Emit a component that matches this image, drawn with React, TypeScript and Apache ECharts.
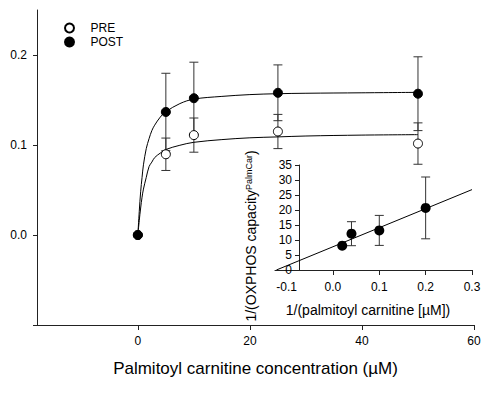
import React, { useEffect, useRef } from "react";
import * as echarts from "echarts";

// ---- Main plot data ----
const concentrations = [0, 5, 10, 25, 50];
const preValues = [0, 0.0897, 0.111, 0.115, 0.1016];
const preErrors = [0, 0.018, 0.019, 0.019, 0.023];
const postValues = [0, 0.1367, 0.152, 0.158, 0.157];
const postErrors = [0, 0.043, 0.04, 0.031, 0.041];

// fitted curves
const preCurveX = [0, 0.25, 0.5, 0.75, 1, 1.5, 2, 2.5, 3, 4, 5, 7.5, 10, 15, 20, 25, 30, 40, 50];
const preCurveY = [0, 0.016, 0.03, 0.042, 0.051, 0.064, 0.076, 0.081, 0.086, 0.091, 0.095, 0.0997, 0.103, 0.106, 0.108, 0.109, 0.11, 0.111, 0.1115];
const postCurveX = [0, 0.25, 0.5, 0.75, 1, 1.5, 2, 2.5, 3, 4, 5, 7.5, 10, 15, 20, 25, 30, 40, 50];
const postCurveY = [0, 0.026, 0.048, 0.064, 0.078, 0.096, 0.107, 0.116, 0.122, 0.131, 0.137, 0.146, 0.151, 0.154, 0.156, 0.157, 0.1575, 0.158, 0.1585];

const mainXTicks = [0, 20, 40, 60];
const mainYTicks = [-0.1, 0, 0.1, 0.2];
const mainYLabels = [0, 0.1, 0.2];

// ---- Inset (double reciprocal) data ----
const insetX = [0.02, 0.04, 0.1, 0.2];
const insetY = [8.1, 12.1, 13.2, 20.7];
const insetErr = [0, 4, 5, 10.3];
const regLineX = [-0.122, 0.3];
const regLineY = [0, 26.8];
const insetXTicks = [0, 0.1, 0.2, 0.3];
const insetXLabels = [-0.1, 0, 0.1, 0.2, 0.3];

const FONT = '"Liberation Sans", Arial, Helvetica, sans-serif';
const INK = "#000";
const AXIS = "#222";

function zip(xs: number[], ys: number[]) {
  return xs.map((x, i) => [x, ys[i]]);
}

function errData(xs: number[], ys: number[], es: number[]) {
  return xs
    .map((x, i) => [x, ys[i] - es[i], ys[i] + es[i]])
    .filter((d, i) => es[i] > 0);
}

function errorBarRender(cap: number) {
  return (params: any, api: any) => {
    const x = api.value(0);
    const lo = api.coord([x, api.value(1)]);
    const hi = api.coord([x, api.value(2)]);
    const style = { stroke: "#333", lineWidth: 1 };
    return {
      type: "group",
      children: [
        { type: "line", shape: { x1: hi[0], y1: hi[1], x2: lo[0], y2: lo[1] }, style },
        { type: "line", shape: { x1: hi[0] - cap, y1: hi[1], x2: hi[0] + cap, y2: hi[1] }, style },
        { type: "line", shape: { x1: lo[0] - cap, y1: lo[1], x2: lo[0] + cap, y2: lo[1] }, style },
      ],
    };
  };
}

export default function App() {
  const ref = useRef<HTMLDivElement>(null);

  useEffect(() => {
    if (!ref.current) return;
    const chart = echarts.init(ref.current, undefined, { renderer: "svg" });
    const axisLine = { show: true, onZero: false, lineStyle: { color: AXIS, width: 1 } };
    const tickStyle = { color: AXIS, width: 1 };
    const labelStyle = { color: INK, fontSize: 12, fontFamily: FONT };

    chart.setOption({
      animation: false,
      backgroundColor: "#fff",
      textStyle: { fontFamily: FONT },
      legend: {
        data: ["PRE", "POST"],
        orient: "vertical",
        left: 59,
        top: 17,
        itemWidth: 32,
        itemHeight: 9,
        itemGap: 2,
        textStyle: { fontSize: 12, color: INK, fontFamily: FONT },
      },
      grid: [
        { left: 37, top: 10, width: 437, height: 315, containLabel: false },
        { left: 275, top: 165, width: 197, height: 105, containLabel: false },
      ],
      xAxis: [
        {
          type: "value",
          gridIndex: 0,
          min: -18,
          max: 60,
          axisLine,
          axisTick: { show: true, customValues: mainXTicks, length: 5, lineStyle: tickStyle },
          axisLabel: { customValues: mainXTicks, margin: 10, ...labelStyle },
          splitLine: { show: false },
          name: "Palmitoyl carnitine concentration (µM)",
          nameLocation: "middle",
          nameGap: 35,
          nameTextStyle: { fontSize: 17, color: INK, fontFamily: FONT },
        },
        {
          type: "value",
          gridIndex: 1,
          min: -0.125,
          max: 0.3,
          axisLine,
          axisTick: { show: true, customValues: insetXTicks, length: 5, lineStyle: tickStyle },
          axisLabel: {
            customValues: insetXLabels,
            margin: 11,
            formatter: (v: number) => v.toFixed(1),
            ...labelStyle,
          },
          splitLine: { show: false },
        },
      ],
      yAxis: [
        {
          type: "value",
          gridIndex: 0,
          min: -0.1,
          max: 0.25,
          axisLine,
          axisTick: { show: true, customValues: mainYTicks, length: 4, lineStyle: tickStyle },
          axisLabel: {
            customValues: mainYLabels,
            margin: 10,
            formatter: (v: number) => v.toFixed(1),
            ...labelStyle,
          },
          splitLine: { show: false },
        },
        {
          type: "value",
          gridIndex: 1,
          min: 0,
          max: 35,
          interval: 5,
          offset: -24,
          axisLine,
          axisTick: { show: true, length: 4, lineStyle: tickStyle },
          axisLabel: { margin: 7, ...labelStyle },
          splitLine: { show: false },
        },
      ],
      graphic: [
        {
          type: "text",
          x: 251,
          y: 236,
          rotation: Math.PI / 2,
          style: {
            text: "{a|1/(OXPHOS capacity}{b|PalmCar}{a|)}",
            align: "center",
            verticalAlign: "middle",
            fill: INK,
            rich: {
              a: { fontSize: 14, fontFamily: FONT, fill: INK },
              b: { fontSize: 9, fontFamily: FONT, fill: INK, verticalAlign: "top" },
            },
          },
        },
        {
          type: "text",
          x: 368,
          y: 310,
          style: {
            text: "1/(palmitoyl carnitine [µM])",
            align: "center",
            verticalAlign: "middle",
            fontSize: 14,
            fontFamily: FONT,
            fill: INK,
          },
        },
      ],
      series: [
        {
          name: "PRE fit",
          type: "line",
          xAxisIndex: 0,
          yAxisIndex: 0,
          data: zip(preCurveX, preCurveY),
          showSymbol: false,
          smooth: 0.35,
          lineStyle: { color: INK, width: 1 },
          silent: true,
        },
        {
          name: "POST fit",
          type: "line",
          xAxisIndex: 0,
          yAxisIndex: 0,
          data: zip(postCurveX, postCurveY),
          showSymbol: false,
          smooth: 0.35,
          lineStyle: { color: INK, width: 1 },
          silent: true,
        },
        {
          name: "errors",
          type: "custom",
          xAxisIndex: 0,
          yAxisIndex: 0,
          data: [
            ...errData(concentrations, preValues, preErrors),
            ...errData(concentrations, postValues, postErrors),
          ],
          renderItem: errorBarRender(4.5),
          silent: true,
          z: 3,
        },
        {
          name: "PRE",
          type: "scatter",
          xAxisIndex: 0,
          yAxisIndex: 0,
          data: zip(concentrations, preValues),
          symbol: "circle",
          symbolSize: 9,
          itemStyle: { color: "#fff", borderColor: INK, borderWidth: 1, opacity: 1 },
          z: 4,
        },
        {
          name: "POST",
          type: "scatter",
          xAxisIndex: 0,
          yAxisIndex: 0,
          data: zip(concentrations, postValues),
          symbol: "circle",
          symbolSize: 9,
          itemStyle: { color: INK, borderColor: INK, borderWidth: 1, opacity: 1 },
          z: 5,
        },
        {
          name: "regression",
          type: "line",
          xAxisIndex: 1,
          yAxisIndex: 1,
          data: zip(regLineX, regLineY),
          showSymbol: false,
          lineStyle: { color: INK, width: 1 },
          silent: true,
        },
        {
          name: "inset errors",
          type: "custom",
          xAxisIndex: 1,
          yAxisIndex: 1,
          data: errData(insetX, insetY, insetErr),
          renderItem: errorBarRender(4.5),
          silent: true,
          z: 3,
        },
        {
          name: "inset",
          type: "scatter",
          xAxisIndex: 1,
          yAxisIndex: 1,
          data: zip(insetX, insetY),
          symbol: "circle",
          symbolSize: 10,
          itemStyle: { color: INK, opacity: 1 },
          z: 5,
        },
      ],
    });

    return () => chart.dispose();
  }, []);

  return (
    <div
      ref={ref}
      style={{ position: "absolute", left: 0, top: 0, width: 496, height: 394, background: "#fff" }}
    />
  );
}
